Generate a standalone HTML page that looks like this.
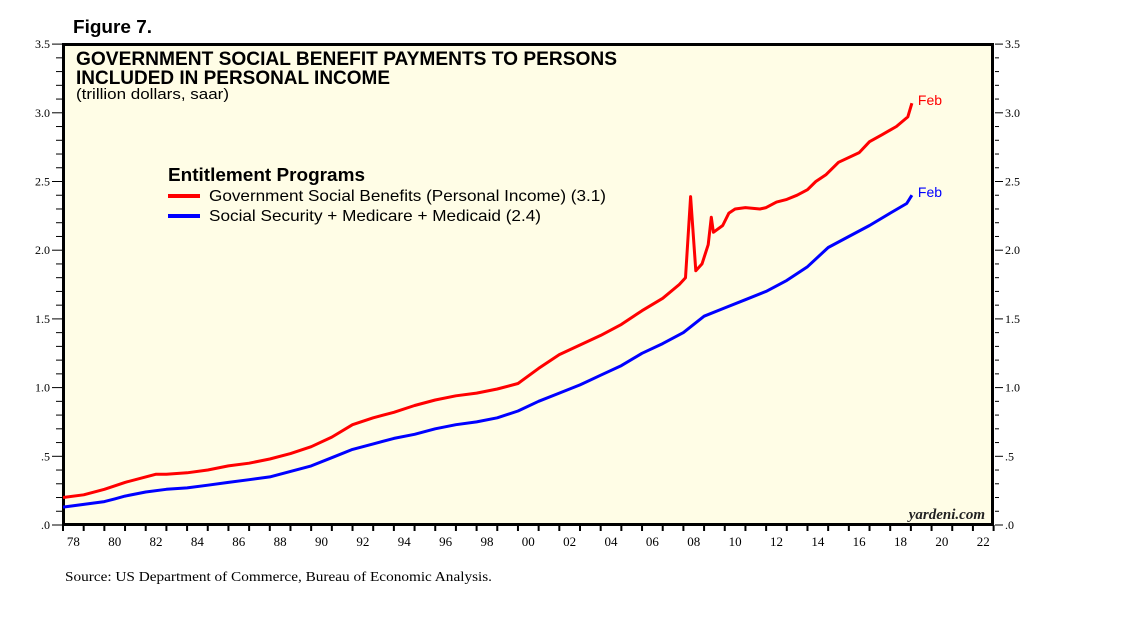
<!DOCTYPE html>
<html><head><meta charset="utf-8"><style>
body{margin:0;background:#fff;width:1138px;height:621px;overflow:hidden;font-family:"Liberation Sans",Arial,sans-serif}
</style></head><body>
<svg id="chart" width="1138" height="621" xmlns="http://www.w3.org/2000/svg">
<text x="73" y="33" font-size="18" font-weight="bold" fill="#000" textLength="79" lengthAdjust="spacingAndGlyphs">Figure 7.</text>
<rect x="63.5" y="44.5" width="929" height="480" fill="#fffde6" stroke="#000" stroke-width="3"/>
<text x="76" y="65" font-size="19" font-weight="bold" textLength="541" lengthAdjust="spacingAndGlyphs">GOVERNMENT SOCIAL BENEFIT PAYMENTS TO PERSONS</text>
<text x="76" y="84" font-size="19" font-weight="bold" textLength="314" lengthAdjust="spacingAndGlyphs">INCLUDED IN PERSONAL INCOME</text>
<text x="76" y="99" font-size="15" textLength="153" lengthAdjust="spacingAndGlyphs">(trillion dollars, saar)</text>
<text x="168" y="181" font-size="18" font-weight="bold" textLength="197" lengthAdjust="spacingAndGlyphs">Entitlement Programs</text>
<line x1="168" y1="196" x2="200" y2="196" stroke="#f00" stroke-width="4"/>
<text x="209" y="201" font-size="16" textLength="397" lengthAdjust="spacingAndGlyphs">Government Social Benefits (Personal Income) (3.1)</text>
<line x1="168" y1="216" x2="200" y2="216" stroke="#00f" stroke-width="4"/>
<text x="209" y="221" font-size="16" textLength="332" lengthAdjust="spacingAndGlyphs">Social Security + Medicare + Medicaid (2.4)</text>
<text x="985" y="519" font-size="15" font-style="italic" font-weight="bold" text-anchor="end" font-family="Liberation Serif,serif" fill="#222">yardeni.com</text>
<text x="65" y="581" font-size="14" font-family="Liberation Serif,serif" textLength="427" lengthAdjust="spacingAndGlyphs">Source: US Department of Commerce, Bureau of Economic Analysis.</text>
<g id="axes"></g><g id="series"></g>
</svg>
<script>
const yTicks=[0,0.5,1.0,1.5,2.0,2.5,3.0,3.5];
const yTickLabels=[".0",".5","1.0","1.5","2.0","2.5","3.0","3.5"];
const xYears=[1978,1980,1982,1984,1986,1988,1990,1992,1994,1996,1998,2000,2002,2004,2006,2008,2010,2012,2014,2016,2018,2020,2022];
const xLabels=["78","80","82","84","86","88","90","92","94","96","98","00","02","04","06","08","10","12","14","16","18","20","22"];
const redYears=[1978,1979,1980,1980.6,1981,1982,1982.5,1983,1984,1985,1986,1987,1988,1989,1990,1991,1992,1993,1994,1995,1996,1997,1998,1999,2000,2001,2002,2003,2004,2005,2006,2007,2007.8,2008.1,2008.35,2008.6,2008.9,2009.2,2009.35,2009.45,2009.9,2010.2,2010.5,2011,2011.7,2012,2012.5,2013,2013.5,2014,2014.4,2014.9,2015.5,2016.5,2017,2017.6,2018.3,2018.85,2019.05];
const redVals=[0.20,0.22,0.26,0.29,0.31,0.35,0.37,0.37,0.38,0.40,0.43,0.45,0.48,0.52,0.57,0.64,0.73,0.78,0.82,0.87,0.91,0.94,0.96,0.99,1.03,1.14,1.24,1.31,1.38,1.46,1.56,1.65,1.75,1.80,2.39,1.85,1.90,2.04,2.24,2.13,2.18,2.27,2.30,2.31,2.30,2.31,2.35,2.37,2.40,2.44,2.50,2.55,2.64,2.71,2.79,2.84,2.90,2.97,3.07];
const blueYears=[1978,1979,1980,1980.5,1981,1982,1983,1984,1985,1986,1987,1988,1989,1990,1991,1992,1993,1994,1995,1996,1997,1998,1999,2000,2001,2002,2003,2004,2005,2006,2007,2008,2009,2010,2011,2012,2013,2014,2015,2016,2017,2018,2018.8,2019.05];
const blueVals=[0.13,0.15,0.17,0.19,0.21,0.24,0.26,0.27,0.29,0.31,0.33,0.35,0.39,0.43,0.49,0.55,0.59,0.63,0.66,0.70,0.73,0.75,0.78,0.83,0.90,0.96,1.02,1.09,1.16,1.25,1.32,1.40,1.52,1.58,1.64,1.70,1.78,1.88,2.02,2.10,2.18,2.27,2.34,2.40];
const X0=63,XW=20.68,Y0=525,YK=137.4;
const xs=y=>X0+(y-1978)*XW, ys=v=>Y0-v*YK;
const NS="http://www.w3.org/2000/svg";
const axes=document.getElementById('axes'), ser=document.getElementById('series');
function mk(t,a,p){const e=document.createElementNS(NS,t);for(const k in a)e.setAttribute(k,a[k]);p.appendChild(e);return e;}
for(let v=0;v<=3.5001;v+=0.1){const y=ys(v),major=Math.abs(v*2-Math.round(v*2))<1e-6;
 const l=mk('line',{x1:major?52:56,x2:62,y1:y,y2:y,stroke:'#000','stroke-width':1},axes);
 
 const r=mk('line',{x1:995,x2:major?1003:999,y1:y,y2:y,stroke:'#000','stroke-width':1},axes);
 }
yTicks.forEach((v,i)=>{
 const t=mk('text',{x:50,y:ys(v)+4,'font-size':12,'text-anchor':'end','font-family':'Liberation Serif,serif'},axes);t.textContent=yTickLabels[i];
 
 const r=mk('text',{x:1005,y:ys(v)+4,'font-size':12,'font-family':'Liberation Serif,serif'},axes);r.textContent=yTickLabels[i];
 });
for(let yr=1978;yr<=2023;yr++){const l=mk('line',{x1:xs(yr),x2:xs(yr),y1:525,y2:531,stroke:'#000','stroke-width':2},axes);
 }
xYears.forEach((yr,i)=>{const t=mk('text',{x:xs(yr+0.5),y:546,'font-size':13,'text-anchor':'middle','font-family':'Liberation Serif,serif'},axes);t.textContent=xLabels[i];
 });
function line(yrs,vals,col,name){
 const p=mk('path',{d:yrs.map((y,i)=>(i?'L':'M')+xs(y).toFixed(1)+' '+ys(vals[i]).toFixed(1)).join(''),fill:'none',stroke:col,'stroke-width':3,'stroke-linejoin':'round'},ser);
 
 const t=mk('text',{x:xs(yrs[yrs.length-1])+6,y:ys(vals[vals.length-1])+2,'font-size':14,fill:col},ser);t.textContent='Feb';
 }
line(redYears,redVals,'#f00','government-social-benefits-line');
line(blueYears,blueVals,'#00f','ss-medicare-medicaid-line');
</script>
</body></html>
